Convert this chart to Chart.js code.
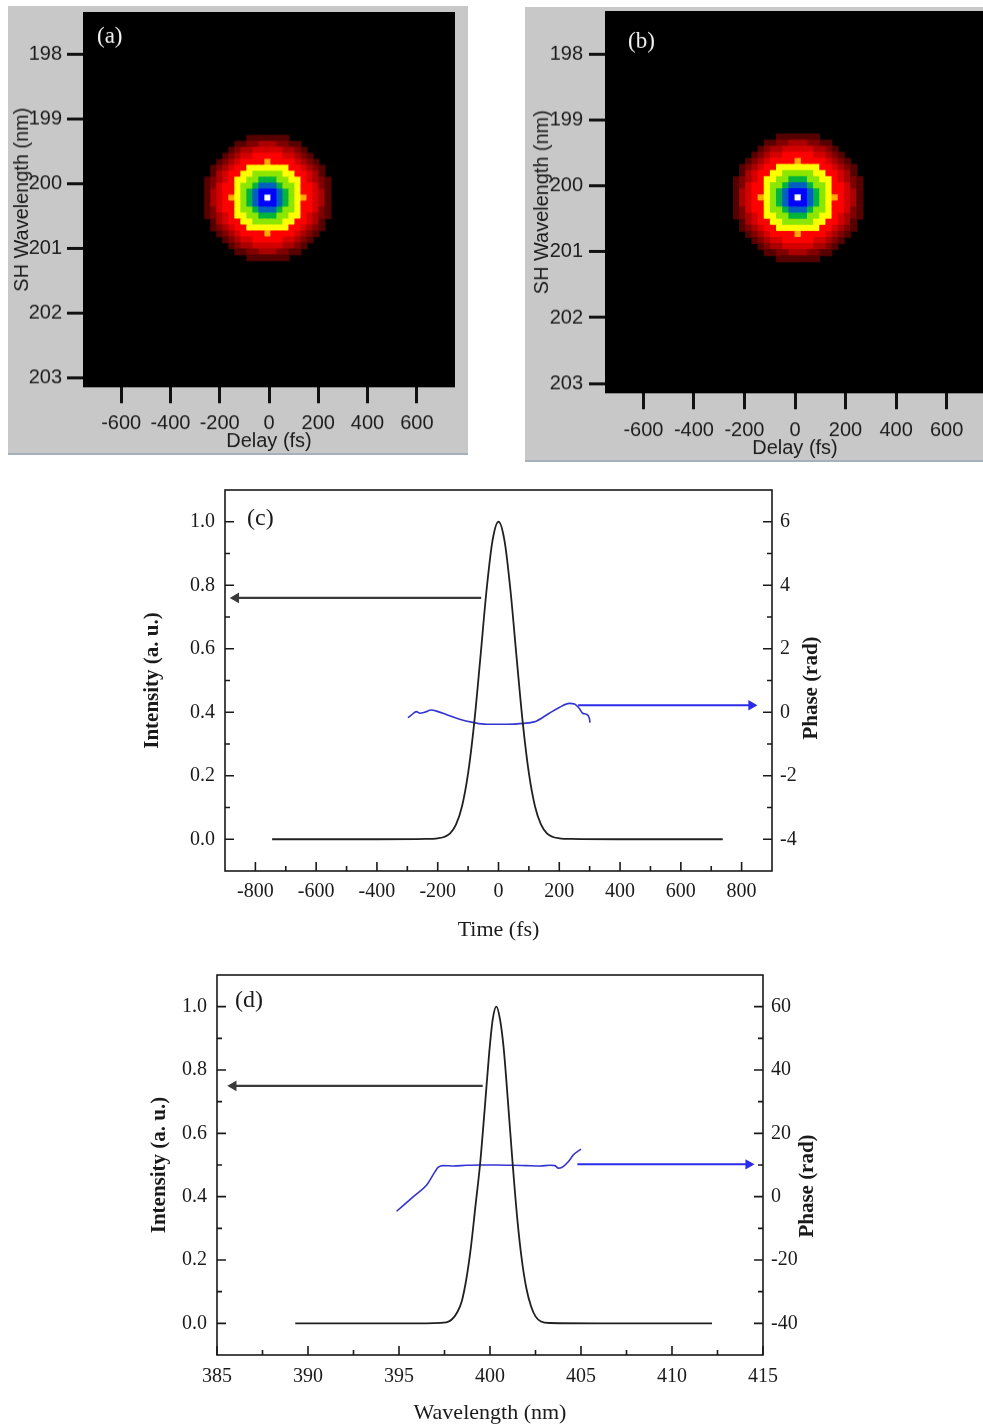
<!DOCTYPE html>
<html>
<head>
<meta charset="utf-8">
<script src="https://cdn.jsdelivr.net/npm/chart.js@4.4.1/dist/chart.umd.min.js"></script>
<style>
    html, body { margin: 0; padding: 0; background: #fff; overflow: hidden; }
    body { width: 983px; height: 1424px; position: relative; }
    canvas { position: absolute; }
    .map { background: #c8c8c8; border-bottom: 2px solid #a7afbb; }
</style>
</head>
<body>
<canvas id="mapA" class="map" width="460" height="449" style="left:8px;top:6px"></canvas>
<canvas id="mapB" class="map" width="470" height="455" style="left:525px;top:7px"></canvas>
<canvas id="pulseC" width="720" height="472" style="left:130px;top:480px"></canvas>
<canvas id="specD" width="720" height="470" style="left:130px;top:965px"></canvas>
<script>
// ---- (a)/(b) FROG traces ----
const delayTicks = [-600, -400, -200, 0, 200, 400, 600];
const shWaveTicks = [198, 199, 200, 201, 202, 203];
const cellFs = 24.4;
const cellNm = 0.0925;
const spotCenterA = [-5, 200.22];
const spotCenterB = [12, 200.18];
// outer radius of each colour band, in trace pixels from the peak
const ringEdgeCells = [0.5, 1.5, 2.3, 3.4, 4.6, 5.95, 6.05, 7.6, 8.4, 9.1, 9.8, 10.5];
const ringColors = ['#ffffff', '#0000ff', '#0060c0', '#00b43c', '#8ce600', '#ffff00',
                    '#ffaa00', '#ff0000', '#d40000', '#aa0000', '#800000', '#560000'];

// ---- (c) temporal intensity and phase ----
const timeTicks = [-800, -600, -400, -200, 0, 200, 400, 600, 800];
const timeMinor = [-700, -500, -300, -100, 100, 300, 500, 700];
const intensityTicks = [0, 0.2, 0.4, 0.6, 0.8, 1.0];
const intensityMinor = [0.1, 0.3, 0.5, 0.7, 0.9];
const phaseTicksC = [-4, -2, 0, 2, 4, 6];
const phaseMinorC = [-3, -1, 1, 3, 5];
const timeFs = [-745, -400, -240, -200, -180, -160, -140, -120, -100, -80, -60, -40, -20, 0,
                20, 40, 60, 80, 100, 120, 140, 160, 180, 200, 240, 400, 738];
const intensityC = [0, 0, 0.001, 0.003, 0.007, 0.018, 0.046, 0.104, 0.208, 0.366, 0.568, 0.778, 0.939, 1.0,
                    0.939, 0.778, 0.568, 0.366, 0.208, 0.104, 0.046, 0.018, 0.007, 0.003, 0.001, 0, 0];
const phaseTimeFs = [-298, -287, -270, -259, -243, -221, -199, -172, -128, -84, -40, 25, 80, 124,
                     167, 200, 233, 250, 266, 277, 288, 299, 301];
const phaseC = [-0.17, -0.09, 0.02, -0.03, 0.0, 0.07, 0.02, -0.07, -0.22, -0.32, -0.38, -0.38, -0.35, -0.28,
                -0.03, 0.15, 0.28, 0.26, 0.12, -0.03, -0.06, -0.19, -0.33];
const arrowIntensityTimeC = [-57, -864];
const arrowIntensityLevelC = [0.76, 0.76];
const arrowPhaseTimeC = [262, 832];
const arrowPhaseLevelC = [0.22, 0.22];

// ---- (d) spectral intensity and phase ----
const waveTicks = [385, 390, 395, 400, 405, 410, 415];
const waveMinor = [387.5, 392.5, 397.5, 402.5, 407.5, 412.5];
const phaseTicksD = [-40, -20, 0, 20, 40, 60];
const phaseMinorD = [-30, -10, 10, 30, 50];
const waveNm = [389.3, 396.0, 397.6, 397.9, 398.2, 398.45, 398.7, 398.95, 399.2, 399.45, 399.7, 399.95, 400.15, 400.35,
                400.55, 400.75, 401.0, 401.25, 401.5, 401.75, 402.0, 402.25, 402.5, 402.8, 403.3, 406.0, 412.2];
const intensityD = [0, 0, 0.003, 0.012, 0.035, 0.07, 0.14, 0.24, 0.37, 0.5, 0.67, 0.85, 0.96, 1.0,
                    0.96, 0.87, 0.69, 0.5, 0.33, 0.2, 0.11, 0.055, 0.022, 0.006, 0.001, 0, 0];
const phaseWaveNm = [394.87, 395.79, 396.52, 396.98, 397.16, 397.43, 397.98, 398.7, 399.45, 400.3,
                     401.28, 402.0, 402.75, 403.3, 403.57, 403.75, 403.94, 404.3, 404.58, 405.0];
const phaseD = [-4.6, 0.0, 3.7, 7.9, 9.3, 9.8, 9.7, 9.9, 10.0, 10.0,
                9.9, 9.8, 9.7, 9.9, 9.8, 9.0, 9.2, 11.0, 13.2, 15.0];
const arrowIntensityWaveD = [399.6, 385.9];
const arrowIntensityLevelD = [0.75, 0.75];
const arrowPhaseWaveD = [404.8, 414.2];
const arrowPhaseLevelD = [10.2, 10.2];

const serif = "'Liberation Serif', 'Times New Roman', serif";
const sans = "'Liberation Sans', Arial, sans-serif";

function points(xs, ys) {
    return xs.map((x, i) => ({x: x, y: ys[i]}));
}

// fixed box size, and no extra room for labels that hang past the ends
function fixed_size(s, w, h) {
    if (w !== null) s.width = w;
    if (h !== null) s.height = h;
    s.paddingTop = 0;
    s.paddingBottom = 0;
    s.paddingLeft = 0;
    s.paddingRight = 0;
}

function spot_cells(center) {
    const pts = [];
    const colors = [];
    const n = Math.ceil(ringEdgeCells[ringEdgeCells.length - 1]);
    for (let j = -n; j <= n; j++) {
        for (let i = -n; i <= n; i++) {
            const k = ringEdgeCells.findIndex(r => Math.hypot(i, j) <= r);
            if (k < 0) continue;
            pts.push({x: center[0] + i * cellFs, y: center[1] + j * cellNm});
            colors.push(ringColors[k]);
        }
    }
    return {pts: pts, colors: colors};
}

function text_plugin(items) {
    return {
        id: 'panelText',
        afterDraw(chart) {
            const ctx = chart.ctx;
            const area = chart.chartArea;
            items.forEach(t => {
                ctx.save();
                ctx.font = t.font;
                ctx.fillStyle = t.color;
                ctx.textBaseline = 'middle';
                ctx.textAlign = t.align || 'left';
                ctx.translate(area.left + t.dx, area.top + t.dy);
                if (t.rotate) ctx.rotate(t.rotate);
                ctx.fillText(t.text, 0, 0);
                ctx.restore();
            });
        }
    };
}

const blackArea = {
    id: 'blackArea',
    beforeDraw(chart) {
        const a = chart.chartArea;
        chart.ctx.save();
        chart.ctx.fillStyle = '#000';
        chart.ctx.fillRect(a.left, a.top, a.right - a.left, a.bottom - a.top);
        chart.ctx.restore();
    }
};

function frame_plugin(marks) {
    return {
        id: 'frameTicks',
        afterDatasetsDraw(chart) {
            const ctx = chart.ctx;
            const a = chart.chartArea;
            ctx.save();
            ctx.strokeStyle = '#1a1a1a';
            ctx.lineWidth = 1.6;
            ctx.strokeRect(a.left, a.top, a.right - a.left, a.bottom - a.top);
            ctx.beginPath();
            marks.forEach(m => {
                const scale = chart.scales[m.axis];
                [[m.major, 9], [m.minor, 5]].forEach(([vals, len]) => {
                    vals.forEach(v => {
                        const p = scale.getPixelForValue(v);
                        if (m.axis === 'x') {
                            ctx.moveTo(p, a.bottom); ctx.lineTo(p, a.bottom - len);
                        } else if (m.axis === 'y') {
                            ctx.moveTo(a.left, p); ctx.lineTo(a.left + len, p);
                        } else {
                            ctx.moveTo(a.right, p); ctx.lineTo(a.right - len, p);
                        }
                    });
                });
            });
            ctx.stroke();
            ctx.restore();
        }
    };
}

function heatmap_chart(canvas, center, o) {
    const cells = spot_cells(center);
    const tickFont = {family: sans, size: 20};
    const config = {
        type: 'scatter',
        data: {
            datasets: [{
                data: cells.pts,
                backgroundColor: cells.colors,
                borderWidth: 0,
                pointStyle: 'rect',
                pointRadius: (ctx) => {
                    const sx = ctx.chart.scales.x;
                    const w = Math.abs(sx.getPixelForValue(cellFs) - sx.getPixelForValue(0));
                    return (w + 0.8) / Math.SQRT2;
                },
                pointHoverRadius: 0
            }]
        },
        options: {
            responsive: false,
            animation: false,
            layout: {padding: {left: 0, top: o.padTop, right: o.padRight, bottom: 0}},
            plugins: {legend: {display: false}, tooltip: {enabled: false}},
            scales: {
                x: {
                    type: 'linear', min: -o.xHalf, max: o.xHalf,
                    afterBuildTicks: s => { s.ticks = delayTicks.map(v => ({value: v})); },
                    afterFit: s => fixed_size(s, null, o.xHeight),
                    border: {display: false},
                    grid: {drawOnChartArea: false, tickLength: 16, tickWidth: 3, tickColor: '#111'},
                    ticks: {font: tickFont, color: '#1c1c1c', padding: o.xPad, maxRotation: 0, autoSkip: false},
                    title: {display: true, text: 'Delay (fs)', font: tickFont, color: '#1c1c1c',
                            padding: {top: 0, bottom: 0}}
                },
                y: {
                    type: 'linear', reverse: true, min: 197.34, max: 203.15,
                    afterBuildTicks: s => { s.ticks = shWaveTicks.map(v => ({value: v})); },
                    afterFit: s => fixed_size(s, o.yWidth, null),
                    border: {display: false},
                    grid: {drawOnChartArea: false, tickLength: 16, tickWidth: 3, tickColor: '#111'},
                    ticks: {font: tickFont, color: '#1c1c1c', padding: o.yPad, autoSkip: false},
                    title: {display: true, text: 'SH Wavelength (nm)', font: tickFont, color: '#1c1c1c',
                            padding: {top: o.titlePad, bottom: 0}}
                }
            }
        },
        plugins: [blackArea, text_plugin([
            {text: o.label, font: '23px ' + serif, color: '#f2f2f2', dx: o.labelDx, dy: o.labelDy}
        ])]
    };
    return new Chart(canvas, config);
}

function profile_chart(canvas, o) {
    const tickFont = {family: serif, size: 20};
    const config = {
        type: 'scatter',
        data: {
            datasets: [{
                data: points(o.xs, o.intensity),
                yAxisID: 'y',
                showLine: true,
                borderColor: '#202020',
                borderWidth: 1.8,
                pointRadius: 0,
                cubicInterpolationMode: 'monotone'
            }, {
                data: points(o.phaseXs, o.phase),
                yAxisID: 'y2',
                showLine: true,
                borderColor: '#3434d2',
                borderWidth: 1.6,
                pointRadius: 0,
                cubicInterpolationMode: 'monotone'
            }, {
                data: points(o.arrowLeftX, o.arrowLeftY),
                yAxisID: 'y',
                showLine: true,
                borderColor: '#3a3a3a',
                backgroundColor: '#3a3a3a',
                borderWidth: 2.2,
                pointStyle: 'triangle',
                rotation: -90,
                pointRadius: [0, 4]
            }, {
                data: points(o.arrowRightX, o.arrowRightY),
                yAxisID: 'y2',
                showLine: true,
                borderColor: '#2b2bea',
                backgroundColor: '#2b2bea',
                borderWidth: 2,
                pointStyle: 'triangle',
                rotation: 90,
                pointRadius: [0, 4]
            }]
        },
        options: {
            responsive: false,
            animation: false,
            layout: {padding: {left: 0, top: 10, right: 0, bottom: 0}},
            plugins: {legend: {display: false}, tooltip: {enabled: false}},
            scales: {
                x: {
                    type: 'linear', min: o.xMin, max: o.xMax,
                    afterBuildTicks: s => { s.ticks = o.xTicks.map(v => ({value: v})); },
                    afterFit: s => fixed_size(s, null, o.xHeight),
                    border: {display: false},
                    grid: {display: false, drawTicks: false},
                    ticks: {font: tickFont, color: '#1a1a1a', padding: o.xPad, maxRotation: 0, autoSkip: false},
                    title: {display: true, text: o.xTitle, font: {family: serif, size: 22}, color: '#1a1a1a',
                            padding: {top: 0, bottom: 8.8}}
                },
                y: {
                    type: 'linear', position: 'left', min: -0.1, max: 1.1,
                    afterBuildTicks: s => { s.ticks = intensityTicks.map(v => ({value: v})); },
                    afterFit: s => fixed_size(s, o.yWidth, null),
                    border: {display: false},
                    grid: {display: false, drawTicks: false},
                    ticks: {font: tickFont, color: '#1a1a1a', padding: 10, autoSkip: false,
                            callback: v => v.toFixed(1)},
                    title: {display: true, text: 'Intensity (a. u.)',
                            font: {family: serif, size: 21, weight: 'bold'}, color: '#1a1a1a',
                            padding: {top: o.yTitlePad, bottom: 0}}
                },
                y2: {
                    type: 'linear', position: 'right', min: o.y2Min, max: o.y2Max,
                    afterBuildTicks: s => { s.ticks = o.y2Ticks.map(v => ({value: v})); },
                    afterFit: s => fixed_size(s, o.y2Width, null),
                    border: {display: false},
                    grid: {display: false, drawTicks: false},
                    ticks: {font: tickFont, color: '#1a1a1a', padding: 8, autoSkip: false}
                }
            }
        },
        plugins: [
            frame_plugin([
                {axis: 'x', major: o.xTicks, minor: o.xMinor},
                {axis: 'y', major: intensityTicks, minor: intensityMinor},
                {axis: 'y2', major: o.y2Ticks, minor: o.y2Minor}
            ]),
            text_plugin([
                {text: o.label, font: '24px ' + serif, color: '#1a1a1a', dx: o.labelDx, dy: o.labelDy},
                {text: 'Phase (rad)', font: 'bold 21px ' + serif, color: '#1a1a1a', align: 'center',
                 dx: o.phaseDx, dy: o.phaseDy, rotate: -Math.PI / 2}
            ])
        ]
    };
    return new Chart(canvas, config);
}

heatmap_chart(document.getElementById('mapA'), spotCenterA, {
    xHalf: 755, padTop: 6, padRight: 13, xHeight: 66, yWidth: 75,
    xPad: 8, yPad: 5, titlePad: 2, label: '(a)', labelDx: 14, labelDy: 25
});

heatmap_chart(document.getElementById('mapB'), spotCenterB, {
    xHalf: 752, padTop: 4, padRight: 10, xHeight: 67, yWidth: 80,
    xPad: 9, yPad: 6, titlePad: 5, label: '(b)', labelDx: 23, labelDy: 31
});

profile_chart(document.getElementById('pulseC'), {
    xs: timeFs, intensity: intensityC, phaseXs: phaseTimeFs, phase: phaseC,
    arrowLeftX: arrowIntensityTimeC, arrowLeftY: arrowIntensityLevelC,
    arrowRightX: arrowPhaseTimeC, arrowRightY: arrowPhaseLevelC,
    xMin: -900, xMax: 900, xTicks: timeTicks, xMinor: timeMinor, xTitle: 'Time (fs)',
    y2Min: -5, y2Max: 7, y2Ticks: phaseTicksC, y2Minor: phaseMinorC,
    xHeight: 81, yWidth: 95, y2Width: 78, xPad: 9, yTitlePad: 10.4,
    label: '(c)', labelDx: 22, labelDy: 29, phaseDx: 587, phaseDy: 198
});

profile_chart(document.getElementById('specD'), {
    xs: waveNm, intensity: intensityD, phaseXs: phaseWaveNm, phase: phaseD,
    arrowLeftX: arrowIntensityWaveD, arrowLeftY: arrowIntensityLevelD,
    arrowRightX: arrowPhaseWaveD, arrowRightY: arrowPhaseLevelD,
    xMin: 385, xMax: 415, xTicks: waveTicks, xMinor: waveMinor, xTitle: 'Wavelength (nm)',
    y2Min: -50, y2Max: 70, y2Ticks: phaseTicksD, y2Minor: phaseMinorD,
    xHeight: 80, yWidth: 87, y2Width: 87, xPad: 10, yTitlePad: 17.4,
    label: '(d)', labelDx: 18, labelDy: 26, phaseDx: 591, phaseDy: 211
});
</script>
</body>
</html>
